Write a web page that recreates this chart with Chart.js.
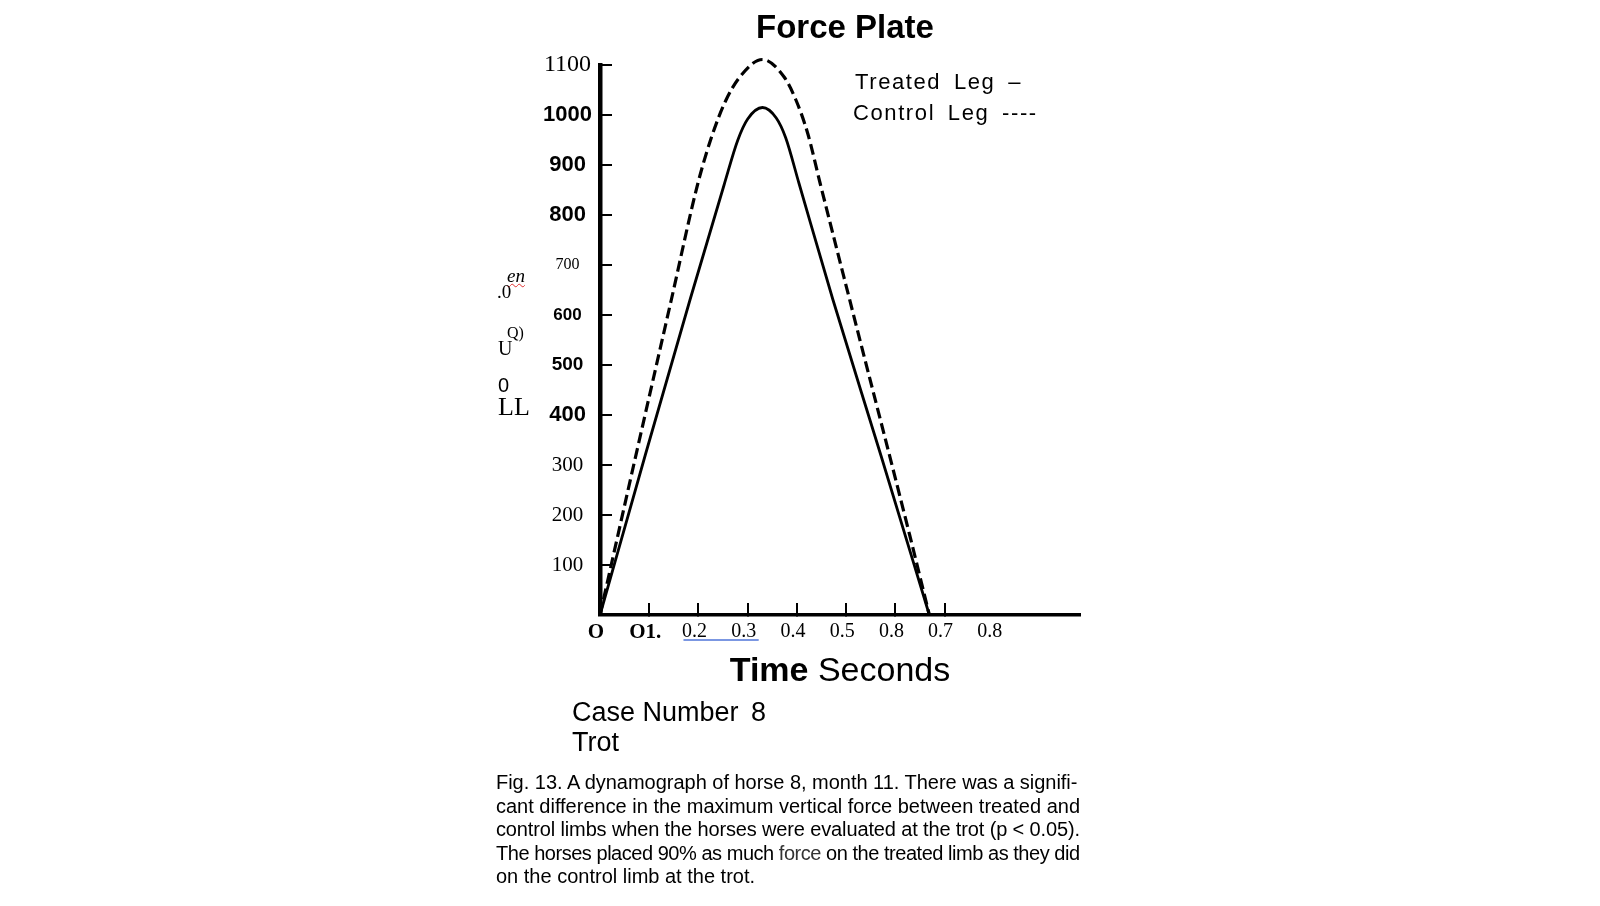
<!DOCTYPE html>
<html>
<head>
<meta charset="utf-8">
<script src="https://cdn.jsdelivr.net/npm/chart.js@4.4.1/dist/chart.umd.min.js"></script>
<style>
  html, body { margin: 0; padding: 0; background: #fff; }
  #wrap { position: relative; width: 1600px; height: 906px; overflow: hidden; background: #fff; }
  #wrap canvas { position: absolute; left: 0; top: 0; }
  .t { position: absolute; white-space: nowrap; color: #000; font-family: "Liberation Sans", Arial, sans-serif; }
  .serif { font-family: "Liberation Serif", "Times New Roman", serif; }
  .cap { position: absolute; left: 496px; width: 584px; font-family: "Liberation Sans", Arial, sans-serif; font-size: 20px; line-height: 23.5px; color: #000; }
  .cap div { white-space: nowrap; }
</style>
</head>
<body>
<div id="wrap">
  <canvas id="c" width="1600" height="906"></canvas>

  <div class="t" style="left:845px; top:8px; font-size:33px; font-weight:bold; line-height:38px; transform:translateX(-50%);">Force Plate</div>

  <div class="t" style="left:855px; top:70px; font-size:22px; line-height:24px; letter-spacing:1.6px; word-spacing:5px;">Treated Leg –</div>
  <div class="t" style="left:853px; top:101px; font-size:22px; line-height:24px; letter-spacing:1.6px; word-spacing:5px;">Control Leg ----</div>

  <!-- scanned y-axis title (as it appears) -->
  <div class="t serif" style="left:507px; top:265px; font-size:19px; line-height:22px; font-style:italic; text-decoration: underline wavy #e03030; text-decoration-thickness:1px;">en</div>
  <div class="t serif" style="left:497px; top:281px; font-size:19px; line-height:22px;">.0</div>
  <div class="t serif" style="left:507px; top:323px; font-size:16px; line-height:20px;">Q)</div>
  <div class="t serif" style="left:498px; top:336px; font-size:20px; line-height:24px;">U</div>
  <div class="t" style="left:498px; top:373px; font-size:20px; line-height:24px;">0</div>
  <div class="t serif" style="left:498px; top:392px; font-size:26px; line-height:30px;">LL</div>

  <div class="t" style="left:840px; top:650px; font-size:34px; line-height:38px; transform:translateX(-50%);"><b>Time</b> Seconds</div>

  <div class="t" style="left:572px; top:697px; font-size:27px; line-height:30px;">Case Number <span style="margin-left:5px">8</span></div>
  <div class="t" style="left:572px; top:727px; font-size:27px; line-height:30px;">Trot</div>

  <div class="cap" id="cap" style="top:771px;">
    <div class="j">Fig. 13. A dynamograph of horse 8, month 11. There was a signifi-</div>
    <div class="j">cant difference in the maximum vertical force between treated and</div>
    <div class="j">control limbs when the horses were evaluated at the trot (p &lt; 0.05).</div>
    <div class="j">The horses placed 90% as much <span style="color:#333">force</span> on the treated limb as they did</div>
    <div>on the control limb at the trot.</div>
  </div>
</div>

<script>
// ---- data ----
const treatedTime  = [0, 0.092, 0.183, 0.252, 0.280, 0.300, 0.330, 0.358, 0.377, 0.404, 0.473, 0.571, 0.669];
const treatedForce = [0, 320,   631,   860,   950,   992,   1015,  994,   955,   864,   631,   318,   0];

const controlTime  = [0, 0.068, 0.145, 0.199, 0.228, 0.256, 0.284, 0.330, 0.374, 0.398, 0.422, 0.447, 0.507, 0.629, 0.669];
const controlForce = [0, 298,   631,   864,   960,   1030,  1076,  1111,  1076,  1030,  963,   864,   631,   160,   0];

const xTickValues = [0, 0.1, 0.2, 0.3, 0.4, 0.5, 0.6, 0.7, 0.8];
const xTickLabels = ['O', 'O1.', '0.2', '0.3', '0.4', '0.5', '0.8', '0.7', '0.8'];

const yTickValues = [0, 100, 200, 300, 400, 500, 600, 700, 800, 900, 1000, 1100];
const yTickLabels = ['', '100', '200', '300', '400', '500', '600', '700', '800', '900', '1000', '1100'];

// tick label type faces as printed (mixed scan)
const SERIF = '"Liberation Serif", "Times New Roman", serif';
const SANS = '"Liberation Sans", Arial, sans-serif';
const yFonts = {
  0: {family: SERIF, size: 20},
  100: {family: SERIF, size: 21}, 200: {family: SERIF, size: 21}, 300: {family: SERIF, size: 21},
  400: {family: SANS, size: 22, weight: 'bold'}, 500: {family: SANS, size: 19, weight: 'bold'},
  600: {family: SANS, size: 17, weight: 'bold'}, 700: {family: SERIF, size: 16},
  800: {family: SANS, size: 22, weight: 'bold'}, 900: {family: SANS, size: 22, weight: 'bold'},
  1000: {family: SANS, size: 22, weight: 'bold'}, 1100: {family: SERIF, size: 24}
};

const toXY = (xs, ys) => xs.map((x, i) => ({x: x, y: ys[i]}));

// blue underline under two x labels (as in the scan)
const underlinePlugin = {
  id: 'underline',
  afterDraw(chart) {
    const xs = chart.scales.x;
    const ctx = chart.ctx;
    ctx.save();
    ctx.strokeStyle = '#4f74d9';
    ctx.lineWidth = 1.6;
    ctx.beginPath();
    const y = xs.top + 25;
    ctx.moveTo(xs.getPixelForValue(0.2) - 15, y);
    ctx.lineTo(xs.getPixelForValue(0.3) + 11, y);
    ctx.stroke();
    ctx.restore();
  }
};

new Chart(document.getElementById('c'), {
  type: 'line',
  data: {
    datasets: [
      {
        label: 'Treated Leg',
        data: toXY(treatedTime, treatedForce),
        borderColor: '#000',
        borderWidth: 2.8,
        pointRadius: 0,
        fill: false,
        cubicInterpolationMode: 'monotone',
        clip: false
      },
      {
        label: 'Control Leg',
        data: toXY(controlTime, controlForce),
        borderColor: '#000',
        borderWidth: 3.2,
        borderDash: [11, 5],
        pointRadius: 0,
        fill: false,
        cubicInterpolationMode: 'monotone',
        clip: false
      }
    ]
  },
  options: {
    responsive: false,
    animation: false,
    devicePixelRatio: 1,
    layout: { padding: { left: 500, right: 520, top: 65, bottom: 241 } },
    plugins: { legend: { display: false }, title: { display: false }, tooltip: { enabled: false } },
    scales: {
      x: {
        type: 'linear',
        min: 0,
        max: 0.975,
        afterFit(s) { s.height = 50; },
        afterBuildTicks(s) { s.ticks = xTickValues.map(v => ({value: v})); },
        border: { display: true, color: '#000', width: 3.5 },
        grid: {
          drawOnChartArea: false,
          drawTicks: true,
          tickLength: -12,
          lineWidth: 2,
          color: (ctx) => (ctx.tick && (ctx.tick.value === 0 || ctx.tick.value === 0.8)) ? 'rgba(0,0,0,0)' : '#000'
        },
        ticks: {
          color: '#000',
          padding: 17,
          labelOffset: -4,
          maxRotation: 0,
          autoSkip: false,
          callback: (v, i) => xTickLabels[i],
          font: (ctx) => (ctx.index <= 1) ? {family: SERIF, size: 21, weight: 'bold'} : {family: SERIF, size: 20}
        }
      },
      y: {
        type: 'linear',
        min: 0,
        max: 1100,
        afterFit(s) { s.width = 100; },
        afterBuildTicks(s) { s.ticks = yTickValues.map(v => ({value: v})); },
        border: { display: true, color: '#000', width: 4.5 },
        grid: {
          drawOnChartArea: false,
          drawTicks: true,
          tickLength: -12,
          lineWidth: 2,
          color: (ctx) => (ctx.tick && ctx.tick.value === 0) ? 'rgba(0,0,0,0)' : '#000'
        },
        ticks: {
          color: '#000',
          padding: 20,
          crossAlign: 'center',
          autoSkip: false,
          callback: (v, i) => yTickLabels[i],
          font: (ctx) => yFonts[ctx.tick ? ctx.tick.value : 0] || {family: SERIF, size: 20}
        }
      }
    }
  },
  plugins: [underlinePlugin]
});

// justify caption lines to the block width
(function () {
  const cnv = document.createElement('canvas').getContext('2d');
  cnv.font = '20px "Liberation Sans", Arial, sans-serif';
  document.querySelectorAll('#cap .j').forEach(el => {
    const txt = el.textContent;
    const w = cnv.measureText(txt).width;
    const ls = (584 - w) / (txt.length - 1);
    el.style.letterSpacing = ls.toFixed(3) + 'px';
  });
})();
</script>
</body>
</html>
